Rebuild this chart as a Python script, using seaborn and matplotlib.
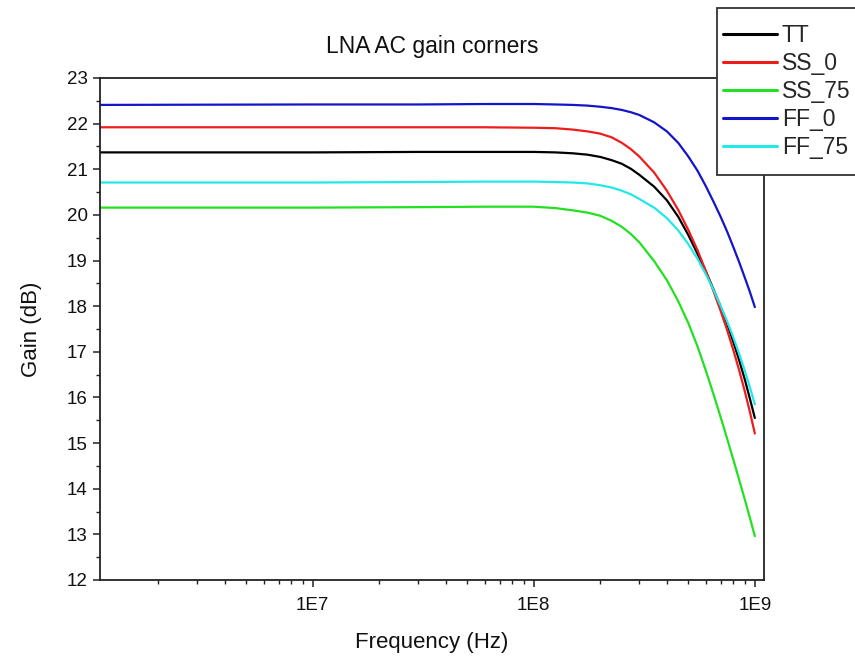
import numpy as np
import pandas as pd
import matplotlib
matplotlib.use("Agg")
import matplotlib.pyplot as plt
import matplotlib.patches as mpatches
import seaborn as sns
from matplotlib.ticker import FixedLocator, LogLocator, FuncFormatter, MultipleLocator, NullFormatter

# ---------------- data ----------------
freq_hz = [1e6, 1e7, 3e7, 6e7, 1e8, 1.25e8, 1.5e8, 1.75e8, 2e8, 2.25e8, 2.5e8, 2.75e8, 3e8,
           3.5e8, 4e8, 4.5e8, 5e8, 5.5e8, 6e8, 6.5e8, 7e8, 7.5e8, 8e8, 8.5e8, 9e8, 9.5e8, 1e9]

gain_tt = [21.37, 21.37, 21.38, 21.38, 21.38, 21.37, 21.35, 21.32, 21.27, 21.20, 21.12, 21.01, 20.88,
           20.62, 20.32, 19.96, 19.56, 19.15, 18.76, 18.37, 17.99, 17.61, 17.21, 16.81, 16.40, 15.97, 15.55]
gain_ss_0 = [21.92, 21.92, 21.92, 21.92, 21.91, 21.90, 21.87, 21.83, 21.78, 21.70, 21.58, 21.44, 21.28,
             20.93, 20.53, 20.11, 19.67, 19.23, 18.77, 18.33, 17.90, 17.47, 17.03, 16.59, 16.14, 15.68, 15.21]
gain_ss_75 = [20.16, 20.16, 20.17, 20.18, 20.18, 20.15, 20.10, 20.05, 19.98, 19.87, 19.74, 19.58, 19.40,
              18.99, 18.57, 18.11, 17.63, 17.12, 16.59, 16.07, 15.57, 15.09, 14.63, 14.19, 13.77, 13.36, 12.96]
gain_ff_0 = [22.41, 22.42, 22.42, 22.43, 22.43, 22.42, 22.41, 22.395, 22.37, 22.34, 22.30, 22.25, 22.19,
             22.03, 21.83, 21.58, 21.28, 20.97, 20.63, 20.29, 19.96, 19.63, 19.29, 18.96, 18.63, 18.31, 17.98]
gain_ff_75 = [20.71, 20.71, 20.72, 20.73, 20.73, 20.72, 20.71, 20.69, 20.65, 20.60, 20.53, 20.45, 20.35,
              20.16, 19.93, 19.66, 19.36, 19.04, 18.70, 18.36, 18.01, 17.66, 17.31, 16.95, 16.59, 16.22, 15.85]

corner_names = ["TT", "SS_0", "SS_75", "FF_0", "FF_75"]
corner_colors = ["#000000", "#ee1c1c", "#22e022", "#1414c8", "#22e8e8"]
x_tick_values = [1e7, 1e8, 1e9]
x_tick_labels = ["1E7", "1E8", "1E9"]

series = [gain_tt, gain_ss_0, gain_ss_75, gain_ff_0, gain_ff_75]
df = pd.concat(
    [pd.DataFrame({"freq": freq_hz, "gain": g, "corner": n}) for n, g in zip(corner_names, series)],
    ignore_index=True,
)

# ---------------- style ----------------
sns.set_style("ticks")
plt.rcParams["font.family"] = ["Liberation Sans", "DejaVu Sans"]

W, H = 855, 660
fig = plt.figure(figsize=(W / 100, H / 100), dpi=100)
ax_left, ax_right, ax_top, ax_bottom = 100, 764, 78, 580
ax = fig.add_axes([ax_left / W, 1 - ax_bottom / H, (ax_right - ax_left) / W, (ax_bottom - ax_top) / H])

sns.lineplot(data=df, x="freq", y="gain", hue="corner", hue_order=corner_names,
             palette=dict(zip(corner_names, corner_colors)), linewidth=1.6,
             estimator=None, sort=False, legend=False, ax=ax)
for ln in ax.get_lines():
    ln.set_solid_joinstyle("round")

ax.set_xscale("log")
ax.set_xlim(1.09e6, 1.1e9)
ax.set_ylim(12, 23)

ax.xaxis.set_major_locator(FixedLocator(x_tick_values))
ax.xaxis.set_major_formatter(FuncFormatter(lambda v, p: x_tick_labels[x_tick_values.index(v)] if v in x_tick_values else ""))
ax.xaxis.set_minor_locator(LogLocator(base=10, subs=range(2, 10), numticks=20))
ax.xaxis.set_minor_formatter(NullFormatter())
ax.yaxis.set_major_locator(MultipleLocator(1))
ax.yaxis.set_minor_locator(MultipleLocator(0.5))

ax.tick_params(axis="both", which="major", direction="out", length=5, width=1.1,
               color="#222222", labelsize=13.5, labelcolor="#111111")
ax.tick_params(axis="x", which="major", pad=7)
ax.tick_params(axis="y", which="major", pad=4)
ax.tick_params(axis="both", which="minor", direction="out", length=3, width=1.0, color="#222222")

for side in ["left", "right", "top", "bottom"]:
    ax.spines[side].set_visible(True)
    ax.spines[side].set_linewidth(1.3)
    ax.spines[side].set_color("#222222")

ax.set_title("LNA AC gain corners", fontsize=16.5, pad=18, color="#111111")
ax.set_xlabel("Frequency (Hz)", fontsize=16, labelpad=13, color="#111111")
ax.set_ylabel("Gain (dB)", fontsize=16, labelpad=18, color="#111111")
ax.grid(False)

# legend box (runs off the right edge of the figure, as in the reference)
box = mpatches.Rectangle((717 / W, 1 - 175 / H), (880 - 717) / W, (175 - 8) / H,
                         transform=fig.transFigure, facecolor="white", edgecolor="#333333",
                         linewidth=1.3, zorder=5, clip_on=False)
fig.patches.append(box)

handles = ax.get_lines()[:len(corner_names)]
leg = fig.legend(handles, corner_names, loc="upper left",
                 bbox_to_anchor=(723 / W, 1 - 24 / H), frameon=False,
                 fontsize=16.5, handlelength=2.35,
                 handletextpad=0.22, labelspacing=0.22, borderpad=0.0, borderaxespad=0.0)
leg.set_zorder(6)
for lh in leg.get_lines():
    lh.set_linewidth(2.2)

fig.savefig("out.png", dpi=100)
